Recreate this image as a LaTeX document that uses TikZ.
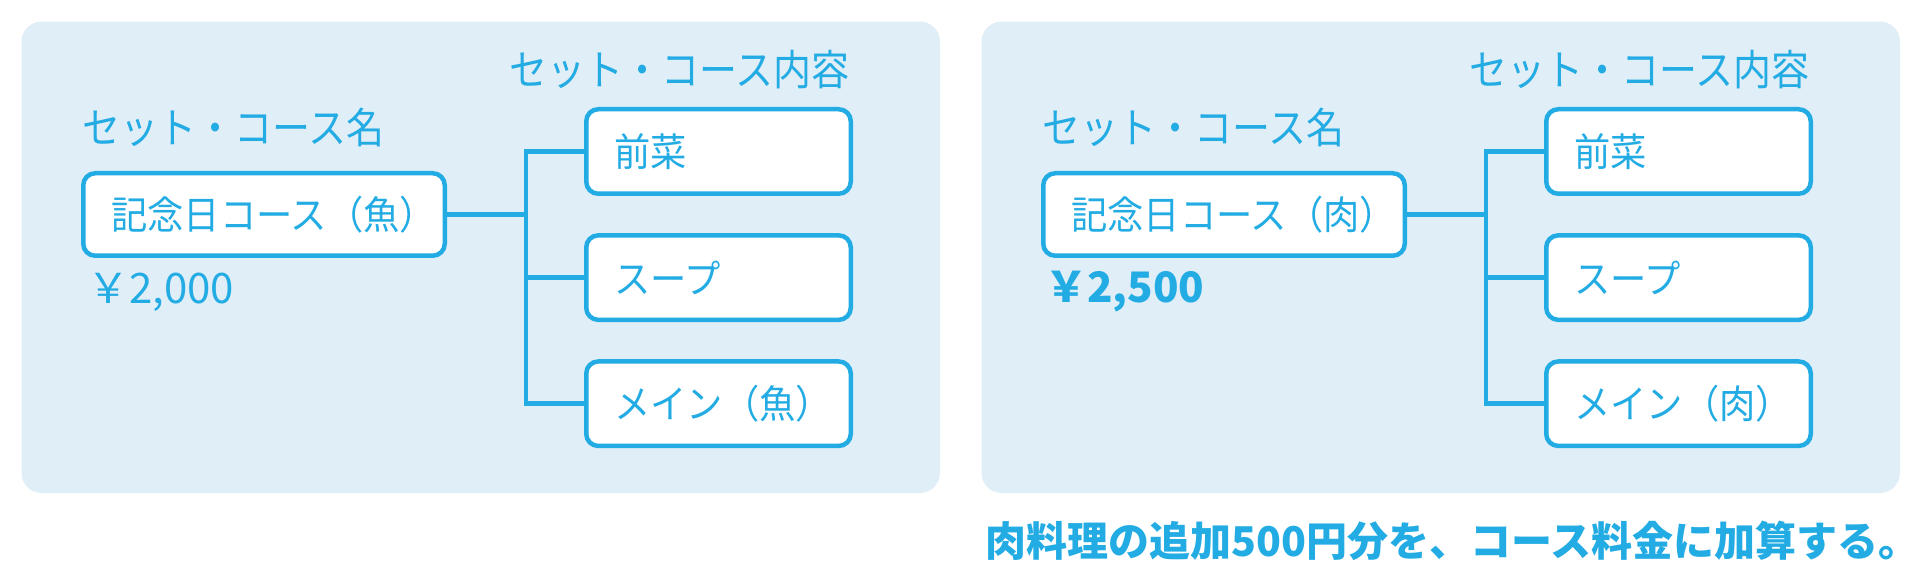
\documentclass[tikz,border=0pt]{standalone}
\usepackage{fontspec}
\setmainfont{Noto Sans CJK JP}
\newfontfamily\jptitle{Noto Sans CJK JP}[FakeStretch=0.905]
\newfontfamily\jpbox{Noto Sans CJK JP}[FakeStretch=0.93]
\definecolor{cblue}{RGB}{35,172,228}
\definecolor{cpanel}{RGB}{224,238,247}
\tikzset{
  panel/.style={fill=cpanel, rounded corners=20pt},
  box/.style={draw=cblue, line width=4.5pt, rounded corners=12pt, fill=white,
    inner xsep=28pt, inner ysep=0pt, text=cblue,
    font=\jpbox\fontsize{39}{42}\selectfont},
  sbox/.style={box, minimum width=264.5pt, minimum height=84.5pt},
  lbl/.style={anchor=west, inner sep=0pt, text=cblue, font=\jptitle\fontsize{42}{44}\selectfont},
  price/.style={anchor=west, inner sep=0pt, text=cblue, font=\fontsize{42}{44}\selectfont},
  note/.style={anchor=west, inner sep=0pt, text=cblue, font=\fontsize{41}{44}\selectfont\bfseries},
  conn/.style={draw=cblue, line width=4.5pt}
}
\begin{document}
\begin{tikzpicture}[x=1pt,y=-1pt]
\useasboundingbox (0,0) rectangle (1920,580);
% panels
\fill[panel] (21.5,21.6) rectangle (940,493);
\fill[panel] (981.5,21.6) rectangle (1900,493);

% ---------- left ----------
\node[lbl] (l-t2) at (509,69.5) {セット・コース内容};
\node[lbl] (l-t1) at (82,127.5) {セット・コース名};
\node[box, minimum width=361.5pt, minimum height=82.5pt] (l-main) at (264,214.5) {\makebox[305.5pt][l]{記念日コース（魚）}};
\node[price] (l-price) at (87,292) {￥2,000};
\node[sbox] (l-b1) at (718.5,151.5) {\makebox[208.5pt][l]{前菜}};
\node[sbox] (l-b2) at (718.5,277.6) {\makebox[208.5pt][l]{スープ}};
\node[sbox] (l-b3) at (718.5,403.7) {\makebox[208.5pt][l]{メイン（魚）}};
\coordinate (l-j) at (526,214.5);
\draw[conn] (l-main.east) -- (l-j);
\draw[conn] (l-b1.west) -| (l-j) |- (l-b3.west);
\draw[conn] (l-j |- l-b2.west) -- (l-b2.west);

% ---------- right ----------
\node[lbl] (r-t2) at (1469,69.5) {セット・コース内容};
\node[lbl] (r-t1) at (1042,127.5) {セット・コース名};
\node[box, minimum width=361.5pt, minimum height=82.5pt] (r-main) at (1224,214.5) {\makebox[305.5pt][l]{記念日コース（肉）}};
\node[price, font=\fontsize{42}{44}\selectfont\bfseries] (r-price) at (1045,292) {￥2,500};
\node[sbox] (r-b1) at (1678.5,151.5) {\makebox[208.5pt][l]{前菜}};
\node[sbox] (r-b2) at (1678.5,277.6) {\makebox[208.5pt][l]{スープ}};
\node[sbox] (r-b3) at (1678.5,403.7) {\makebox[208.5pt][l]{メイン（肉）}};
\coordinate (r-j) at (1486,214.5);
\draw[conn] (r-main.east) -- (r-j);
\draw[conn] (r-b1.west) -| (r-j) |- (r-b3.west);
\draw[conn] (r-j |- r-b2.west) -- (r-b2.west);

% note
\node[note] (note) at (985,541) {肉料理の追加500円分を、コース料金に加算する。};
\end{tikzpicture}
\end{document}
